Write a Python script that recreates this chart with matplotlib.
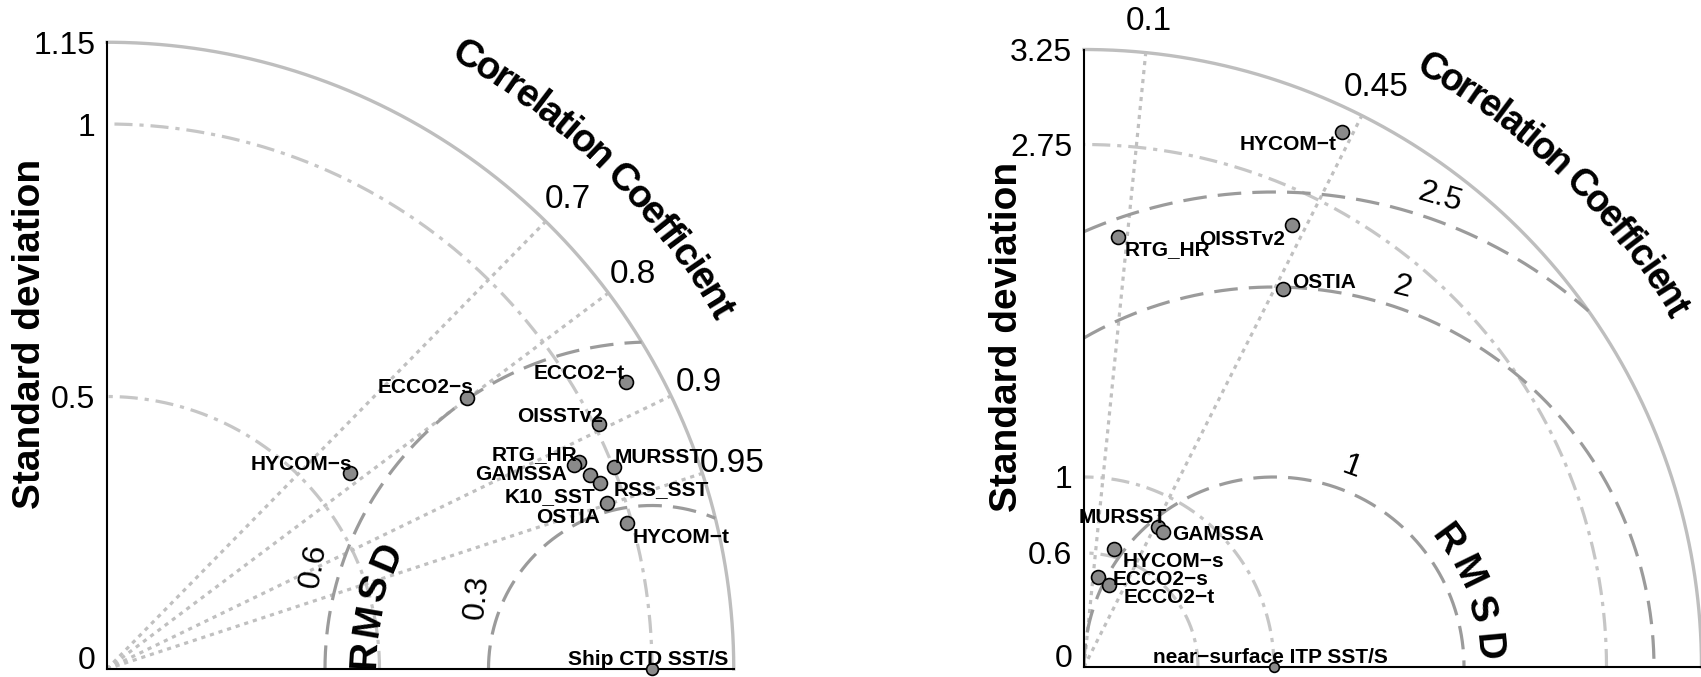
import numpy as np
import matplotlib
matplotlib.use('Agg')
import matplotlib.pyplot as plt
from matplotlib.textpath import TextToPath
from matplotlib.font_manager import FontProperties

plt.rcParams['font.family'] = ['Liberation Sans', 'DejaVu Sans']
plt.rcParams['lines.scale_dashes'] = False

# ---- left panel: normalised statistics vs ship CTD ----
left_names = ['ECCO2−t', 'ECCO2−s', 'HYCOM−s', 'OISSTv2', 'RTG_HR', 'GAMSSA',
              'K10_SST', 'RSS_SST', 'OSTIA', 'MURSST', 'HYCOM−t']
left_std = [1.089, 0.827, 0.573, 1.008, 0.946, 0.935, 0.955, 0.967, 0.967, 1.001, 0.991]
left_corr = [0.875, 0.799, 0.778, 0.895, 0.916, 0.916, 0.928, 0.936, 0.949, 0.929, 0.963]
left_ref = 'Ship CTD SST/S'
left_ref_std = 1.0
left_max = 1.15
left_std_ticks = [0, 0.5, 1, 1.15]
left_std_ticklabels = ['0', '0.5', '1', '1.15']
left_std_circles = [0.5, 1.0]
left_corr_ticks = [0.7, 0.8, 0.9, 0.95]
left_rmsd = [0.3, 0.6]

# ---- right panel: vs near-surface ITP ----
right_names = ['HYCOM−t', 'OISSTv2', 'OSTIA', 'RTG_HR', 'MURSST', 'GAMSSA',
               'HYCOM−s', 'ECCO2−s', 'ECCO2−t']
right_std = [3.126, 2.57, 2.25, 2.27, 0.832, 0.823, 0.641, 0.481, 0.452]
right_corr = [0.434, 0.426, 0.465, 0.079, 0.467, 0.505, 0.249, 0.156, 0.295]
right_ref = 'near−surface ITP SST/S'
right_ref_std = 1.0
right_max = 3.25
right_std_ticks = [0, 0.6, 1, 2.75, 3.25]
right_std_ticklabels = ['0', '0.6', '1', '2.75', '3.25']
right_std_circles = [0.6, 1.0, 2.75]
right_corr_ticks = [0.1, 0.45]
right_rmsd = [1, 2, 2.5]

# label placement (offset in pixels, alignment)
left_lab = [((-1, 3), 'right'), ((6, 5), 'right'), ((2, 3), 'right'), ((4, 2), 'right'),
            ((-2, 2), 'right'), ((-7, -15), 'right'), ((5, -27), 'right'), ((13, -12), 'left'),
            ((-7, -20), 'right'), ((1, 4), 'left'), ((6, -20), 'left')]
right_lab = [((-5, -18), 'right'), ((-7, -20), 'right'), ((9, 1), 'left'), ((7, -18), 'left'),
             ((9, 4), 'right'), ((9, -8), 'left'), ((8, -18), 'left'), ((14, -8), 'left'),
             ((14, -18), 'left')]

W, H = 1701, 677
fig = plt.figure(figsize=(W / 100, H / 100), dpi=100)

c_outer = '#bebebe'
c_std = '#c6c6c6'
c_rmsd = '#9b9b9b'
c_corr = '#c0c0c0'
ttp = TextToPath()


def arc_text(ax, s, r, a0, a1, size):
    fp = FontProperties(family='Liberation Sans', weight='bold', size=size)
    w = np.array([ttp.get_text_width_height_descent(ch, fp, ismath=False)[0] for ch in s])
    c = np.cumsum(w) - w / 2
    frac = (c - c[0]) / (c[-1] - c[0])
    for ch, a in zip(s, np.radians(a0 + (a1 - a0) * frac)):
        ax.text(r * np.cos(a), r * np.sin(a), ch, rotation=np.degrees(a) - 90,
                ha='center', va='center', rotation_mode='anchor',
                fontproperties=fp, clip_on=False)


def taylor(x0, y0, scale, R, names, std, corr, lab, ref, ref_std,
           ticks, ticklabels, circles, cticks, rmsd, rmsd_lab, rmsd_letters,
           title, ref_ms):
    ax = fig.add_axes([x0 / W, (H - y0) / H, R * scale / W, R * scale / H])
    ax.set_xlim(0, R)
    ax.set_ylim(0, R)
    for s in ['top', 'right']:
        ax.spines[s].set_visible(False)
    for s in ['left', 'bottom']:
        ax.spines[s].set_linewidth(1.5)
    ax.set_xticks([])
    ax.set_yticks(ticks)
    ax.set_yticklabels(ticklabels)
    ax.tick_params(axis='y', length=0, pad=8.5, labelsize=23)
    ax.yaxis.get_major_ticks()[0].label1.set_verticalalignment('baseline')

    t = np.linspace(0, np.pi / 2, 600)
    ax.plot(R * np.cos(t), R * np.sin(t), color=c_outer, lw=2.4, clip_on=False)
    for r in circles:
        ax.plot(r * np.cos(t), r * np.sin(t), color=c_std, lw=2.3,
                linestyle=(0, (13, 5, 3, 5)))

    for cc in cticks:
        a = np.arccos(cc)
        ax.plot([0, R * np.cos(a)], [0, R * np.sin(a)], color=c_corr, lw=2.3,
                linestyle=(0, (3, 3.5)))
        rl = R + 31 / scale
        ax.text(rl * np.cos(a), rl * np.sin(a), f'{cc:g}', fontsize=24,
                ha='center', va='center', clip_on=False)

    tt = np.linspace(np.pi, 0, 3000)
    for r in rmsd:
        x = ref_std + r * np.cos(tt)
        y = r * np.sin(tt)
        m = (x >= 0) & (x ** 2 + y ** 2 <= R ** 2)
        ax.plot(x[m], y[m], color=c_rmsd, lw=2.3, linestyle=(0, (17, 8)))
    for r, th, rot, txt in rmsd_lab:
        a = np.radians(th)
        ax.text(ref_std + r * np.cos(a), r * np.sin(a), txt, fontsize=23,
                rotation=rot, ha='center', va='center', rotation_mode='anchor')
    r, angs = rmsd_letters
    for ch, th in zip('RMSD', angs):
        a = np.radians(th)
        ax.text(ref_std + r * np.cos(a), r * np.sin(a), ch, fontsize=28,
                fontweight='bold', rotation=th - 90, ha='center', va='center',
                rotation_mode='anchor')

    title_r, a0, a1, tsize = title
    arc_text(ax, 'Correlation Coefficient', title_r, a0, a1, tsize)

    std = np.array(std)
    ang = np.arccos(np.array(corr))
    xs, ys = std * np.cos(ang), std * np.sin(ang)
    ax.plot(xs, ys, 'o', ms=10, mfc='#8a8a8a', mec='k', mew=1.2,
            clip_on=False, zorder=5)
    for n, x, y, (off, ha) in zip(names, xs, ys, lab):
        ax.annotate(n, (x, y), xytext=off, textcoords='offset pixels', ha=ha,
                    va='baseline', fontsize=15, fontweight='bold', zorder=6)
    ax.plot([ref_std], [0], 'o', ms=ref_ms, mfc='#8a8a8a', mec='k', mew=1.2,
            clip_on=False, zorder=5)
    ax.annotate(ref, (ref_std, 0), xytext=(-4, 4), textcoords='offset pixels',
                ha='center', va='baseline', fontsize=15, fontweight='bold', zorder=6)

    ax.set_ylabel('Standard deviation', fontsize=28, fontweight='bold')
    ax.yaxis.set_label_coords(-59 / (R * scale), 0.535)
    return ax


axl = taylor(107, 669, 545, left_max, left_names, left_std, left_corr, left_lab,
             left_ref, left_ref_std, left_std_ticks, left_std_ticklabels,
             left_std_circles, left_corr_ticks, left_rmsd,
             [(0.65, 163, 80, '0.6'), (0.347, 157.6, 84, '0.3')],
             (0.527, np.linspace(177, 157, 4)), (1.303, 59.6, 30.3, 28), 8.5)

axr = taylor(1084, 667, 190, right_max, right_names, right_std, right_corr, right_lab,
             right_ref, right_ref_std, right_std_ticks, right_std_ticklabels,
             right_std_circles, right_corr_ticks, right_rmsd,
             [(1.125, 68.6, -20, '1'), (2.11, 71.4, -14, '2'), (2.62, 70.5, -16, '2.5')],
             (1.126, np.linspace(36.3, 5.3, 4)), (3.64, 59.9, 31.2, 27), 7)

fig.savefig('out.png', dpi=100, facecolor='white')
